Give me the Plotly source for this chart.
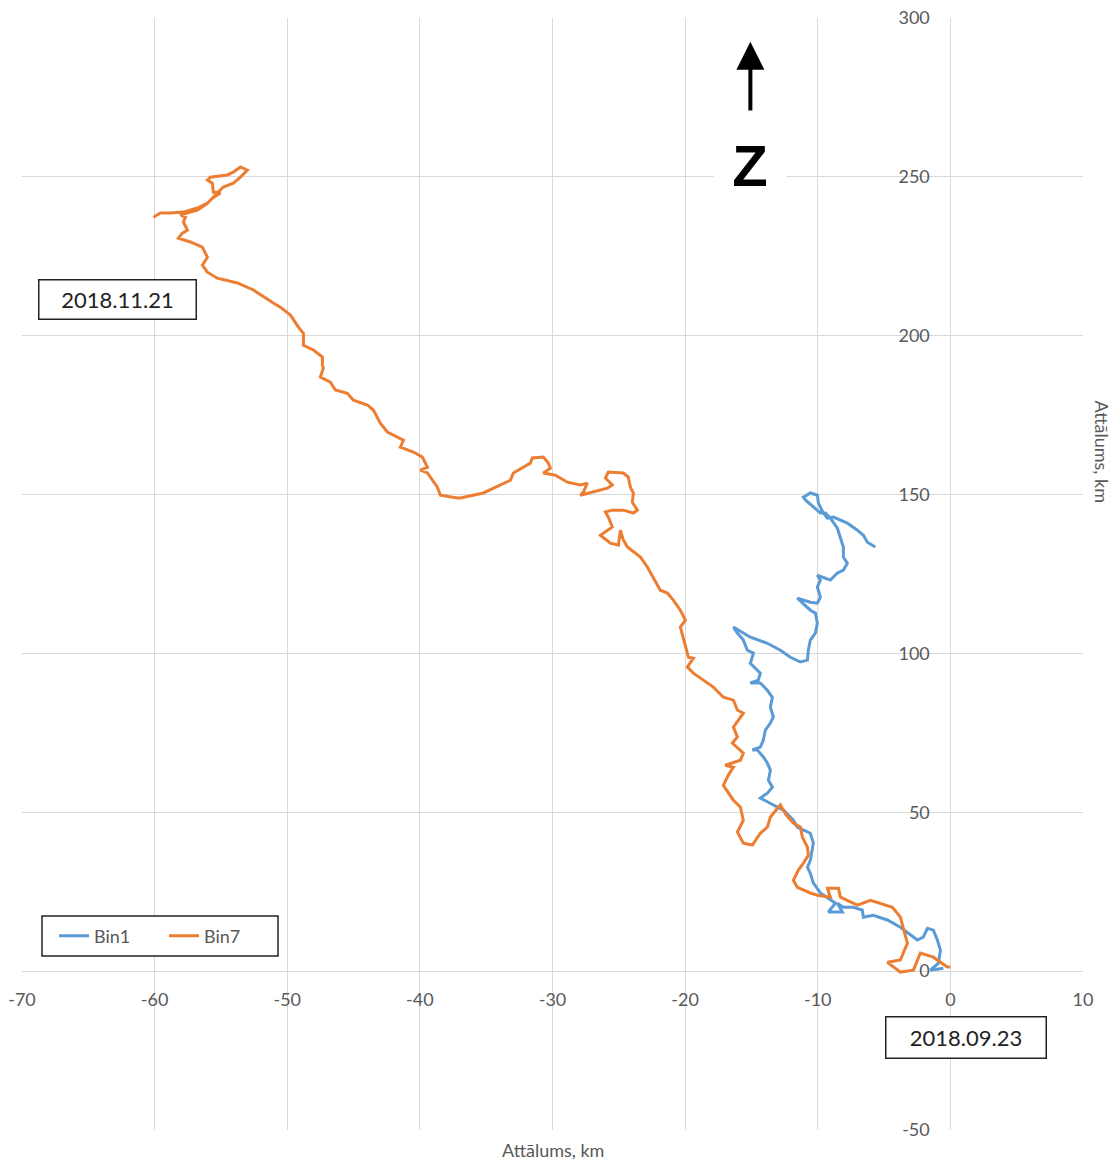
import plotly.graph_objects as go

# Bin1 track (km)
bin1_x = [-0.53, -1.51, -0.90, -0.75, -0.98, -1.28, -1.73, -2.04, -2.49, -3.77, -4.75, -5.81, -6.56, -6.64,
          -7.31, -8.07, -8.52, -8.14, -9.20, -8.67, -9.80, -10.33, -10.56, -10.78, -10.56, -10.41, -10.33,
          -10.56, -11.08, -11.54, -11.84, -12.59, -13.35, -13.80, -14.33, -13.80, -13.42, -13.72, -13.57,
          -13.80, -14.10, -14.55, -14.93, -14.33, -14.10, -13.95, -13.57, -13.35, -13.57, -13.42, -13.80,
          -14.33, -15.08, -14.48, -14.33, -15.08, -14.85, -15.31, -15.61, -16.06, -16.36, -15.08, -13.80,
          -12.82, -12.06, -11.31, -10.78, -10.71, -10.56, -10.18, -10.03, -10.18, -10.56, -11.54, -10.56,
          -10.03, -9.80, -10.03, -9.80, -10.03, -9.58, -9.05, -8.52, -8.07, -7.77, -8.07, -8.07, -8.29,
          -8.52, -9.05, -9.43, -9.80, -10.33, -10.93, -11.08, -10.56, -10.03, -9.95, -9.58, -9.27, -8.82,
          -8.29, -7.77, -7.01, -6.56, -6.26, -5.66]
bin1_y = [0.9, 0.3, 2.5, 6.6, 9.8, 12.9, 13.5, 10.7, 9.8, 13.8, 16.1, 17.6, 17.0, 19.2,
          20.1, 20.1, 21.4, 18.6, 18.6, 21.4, 24.6, 27.7, 30.8, 32.7, 34.9, 38.1, 40.3,
          43.4, 44.4, 45.3, 47.5, 50.7, 52.3, 53.2, 54.5, 56.0, 57.9, 60.1, 63.3,
          65.5, 67.4, 69.6, 69.6, 70.5, 72.7, 75.9, 78.1, 80.0, 83.1, 86.2, 88.4,
          90.7, 90.7, 91.6, 93.8, 96.9, 100.1, 101.0, 104.2, 106.4, 108.3, 105.1, 103.2,
          101.0, 98.8, 97.3, 97.9, 101.0, 104.2, 106.4, 109.5, 112.7, 113.6, 117.4, 116.1,
          115.8, 117.7, 120.9, 123.1, 124.6, 124.0, 123.1, 125.3, 126.2, 128.4, 130.3, 133.5, 136.6,
          139.4, 142.6, 144.2, 144.2, 146.1, 148.3, 149.2, 150.5, 149.8, 147.3, 144.2, 142.6, 142.9,
          142.0, 141.0, 138.8, 137.2, 135.0, 133.5]

# Bin7 track (km)
bin7_x = [0.0, -0.23, -1.28, -2.26, -2.79, -3.77, -4.75, -3.77, -3.24, -3.54, -3.77, -4.37, -5.28, -6.03,
          -7.01, -8.29, -8.44, -9.27, -9.05, -10.03, -10.56, -11.54, -11.84, -11.46, -11.08, -10.71, -10.78,
          -11.16, -11.31, -11.84, -12.40, -12.82, -13.57, -13.80, -14.33, -14.93, -15.61, -16.06, -15.61,
          -15.83, -16.36, -16.74, -17.12, -16.74, -16.36, -16.97, -15.83, -15.61, -16.44, -16.06, -16.36,
          -15.61, -16.06, -16.36, -17.12, -17.87, -18.62, -19.38, -19.83, -19.38, -19.75, -20.13, -20.36,
          -19.98, -20.36, -20.89, -21.34, -21.87, -22.39, -22.85, -23.37, -24.35, -24.66, -24.88, -25.03,
          -25.64, -26.39, -25.86, -25.49, -25.79, -26.01, -25.49, -24.66, -23.90, -23.60, -23.98, -23.90,
          -24.13, -24.28, -24.66, -25.79, -26.01, -25.49, -25.86, -26.92, -27.90, -27.67, -27.37, -27.90,
          -28.88, -29.78, -30.69, -30.16, -30.31, -30.69, -31.52, -31.67, -32.95, -33.18, -35.21, -36.95,
          -37.17, -38.45, -38.68, -39.43, -39.96, -39.43, -39.81, -40.49, -41.47, -41.24, -42.00, -42.45,
          -42.98, -43.51, -43.96, -45.01, -45.47, -46.37, -46.75, -47.50, -47.28, -47.35, -47.35, -48.03,
          -48.78, -48.78, -49.16, -49.76, -50.52, -51.05, -52.55, -53.76, -55.27, -56.02, -56.40, -56.02,
          -56.40, -57.30, -58.21, -57.91, -57.53, -57.83, -57.68, -58.06, -57.30, -56.78, -56.02, -55.65,
          -55.04, -55.57, -55.65, -56.02, -55.80, -54.52, -54.06, -53.53, -53.01, -53.53, -54.06, -54.82,
          -55.27, -56.02, -56.78, -57.83, -58.81, -59.57, -60.09]
bin7_y = [1.3, 1.3, 4.4, 5.7, 0.3, -0.3, 2.8, 3.5, 8.8, 13.8, 17.0, 20.1, 21.4, 22.3,
          20.8, 23.3, 26.1, 26.1, 23.3, 23.9, 24.6, 26.4, 28.6, 31.8, 34.0, 36.5, 39.0,
          42.2, 45.3, 46.6, 49.3, 52.3, 48.5, 45.3, 43.4, 39.7, 40.3, 43.8, 47.5,
          51.6, 53.8, 56.0, 58.5, 61.7, 64.2, 64.8, 66.4, 68.6, 71.8, 73.7, 76.8,
          81.2, 82.2, 85.3, 86.2, 89.4, 91.6, 93.8, 95.7, 98.5, 98.8, 104.2, 108.3,
          110.5, 113.6, 116.8, 119.0, 119.9, 124.0, 127.2, 130.3, 133.5, 135.7, 138.8, 134.1,
          134.7, 137.2, 138.8, 139.8, 142.9, 144.5, 145.1, 145.1, 144.2, 145.1, 147.6, 150.5,
          152.3, 155.5, 156.8, 157.1, 155.2, 153.0, 152.0, 150.8, 149.8, 150.8, 153.6, 153.0,
          153.9, 156.1, 156.8, 158.3, 159.9, 161.8, 161.5, 159.9, 156.8, 154.5, 150.5, 148.9,
          148.9, 149.8, 152.3, 156.8, 157.7, 158.6, 161.8, 163.4, 164.9, 167.1, 168.7, 169.7,
          172.5, 176.6, 178.2, 179.7, 181.9, 182.9, 185.4, 187.0, 189.8, 190.7, 193.3, 195.5,
          197.0, 200.8, 202.7, 206.5, 209.0, 210.3, 214.4, 216.6, 218.1, 220.0, 222.2, 224.7,
          227.9, 229.5, 230.7, 232.3, 233.2, 235.8, 237.3, 238.0, 238.9, 239.5, 241.7, 243.3,
          244.9, 245.2, 248.0, 249.0, 249.9, 250.6, 251.5, 253.1, 252.1, 249.9, 248.0, 246.8,
          244.9, 241.7, 240.2, 238.9, 238.6, 238.6, 237.3]

series_names = ["Bin1", "Bin7"]
x_ticks = [-70, -60, -50, -40, -30, -20, -10, 0, 10]
y_ticks = [-50, 0, 50, 100, 150, 200, 250, 300]
axis_title = "Attālums, km"
start_label = "2018.09.23"
end_label = "2018.11.21"
north_label = "Z"

FONT = "Lato, Open Sans, sans-serif"
GRAY = "#595959"
GRID = "#d9d9d9"

fig = go.Figure()
fig.add_trace(go.Scatter(x=bin1_x, y=bin1_y, mode="lines", name=series_names[0],
                         line=dict(color="#5B9BD5", width=3)))
fig.add_trace(go.Scatter(x=bin7_x, y=bin7_y, mode="lines", name=series_names[1],
                         line=dict(color="#ED7D31", width=3)))

fig.update_layout(
    width=1115, height=1162,
    margin=dict(l=22, r=32, t=18, b=32, autoexpand=False),
    paper_bgcolor="white", plot_bgcolor="white",
    font=dict(family=FONT, size=18, color=GRAY),
    showlegend=True,
    legend=dict(orientation="h", x=0.0302, y=0.1745, xanchor="left", yanchor="middle",
                bgcolor="rgba(0,0,0,0)", borderwidth=0,
                font=dict(size=18, color=GRAY), itemwidth=30, entrywidth=65,
                tracegroupgap=0),
    hovermode=False,
    xaxis=dict(range=[-70, 10], tickvals=x_ticks, ticktext=[str(v) for v in x_ticks],
               showgrid=True, gridcolor=GRID, gridwidth=1,
               zeroline=True, zerolinecolor=GRID, zerolinewidth=1,
               anchor="free", position=50/350, showline=False, automargin=False,
               ticks="outside", ticklen=12, tickcolor="rgba(0,0,0,0)",
               tickfont=dict(size=18, color=GRAY), fixedrange=True),
    yaxis=dict(range=[-50, 300], tickvals=y_ticks, ticktext=[str(v) for v in y_ticks],
               showgrid=True, gridcolor=GRID, gridwidth=1,
               zeroline=True, zerolinecolor=GRID, zerolinewidth=1,
               anchor="free", position=70/80, showline=False, automargin=False,
               ticks="outside", ticklen=17, tickcolor="rgba(0,0,0,0)",
               tickfont=dict(size=18, color=GRAY), fixedrange=True),
    shapes=[dict(type="rect", xref="paper", yref="paper", x0=0.01885, x1=0.2413, y0=0.1565, y1=0.1924,
                 fillcolor="white", line=dict(color="#222222", width=1.5), layer="above")],
)

annotations = [
    dict(text=axis_title, xref="paper", yref="paper", x=0.5, y=-0.018, xanchor="center", yanchor="middle",
         showarrow=False, font=dict(size=18, color=GRAY)),
    dict(text=axis_title, xref="paper", yref="paper", x=1.018, y=0.61, xanchor="center", yanchor="middle",
         textangle=90, showarrow=False, font=dict(size=18, color=GRAY)),
    dict(text=end_label, x=-62.8, y=211.5, xref="x", yref="y", showarrow=False,
         bgcolor="white", bordercolor="#222222", borderwidth=1.5, borderpad=0,
         width=156, height=38, font=dict(size=22, color="#222222")),
    dict(text=start_label, x=1.2, y=-20.8, xref="x", yref="y", showarrow=False,
         bgcolor="white", bordercolor="#222222", borderwidth=1.5, borderpad=0,
         width=159, height=40, font=dict(size=22, color="#222222")),
    dict(text="<b>" + north_label + "</b>", x=-15.08, y=253.7, xref="x", yref="y", showarrow=False,
         bgcolor="white", width=70, height=44,
         font=dict(family="Liberation Sans, Arial, sans-serif", size=58, color="black")),
    dict(text="", x=-15.08, y=292.5, xref="x", yref="y", ax=-15.08, ay=270.4,
         axref="x", ayref="y", showarrow=True, arrowhead=2, arrowsize=1.4, arrowwidth=4,
         arrowcolor="black", standoff=0),
]
fig.update_layout(annotations=annotations)

fig.write_html("out.html", config={"displayModeBar": False, "staticPlot": True},
               post_script="document.body.style.margin='0';")
